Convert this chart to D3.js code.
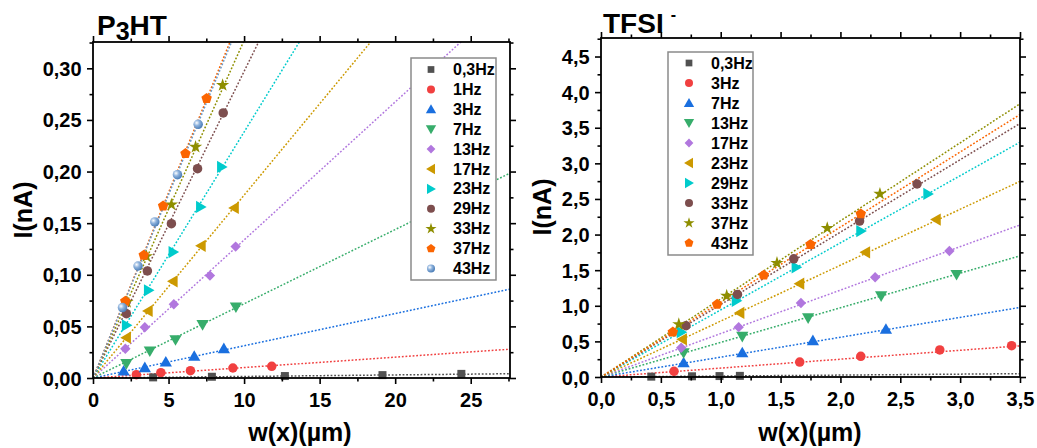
<!DOCTYPE html>
<html><head><meta charset="utf-8">
<script src="https://cdn.jsdelivr.net/npm/d3@7"></script>
<style>
body{margin:0;background:#fff;}
svg text{font-family:"Liberation Sans",Arial,sans-serif;font-weight:bold;fill:#000;}
</style></head>
<body><svg id="c" width="1037" height="448"></svg>
<script>
// ---------- DATA ----------
const seriesColors = ["#515151","#F14040","#1A6FDF","#37AD6B","#B177DE","#CC9900","#00CBCC","#7D4E4E","#8E8E00","#FB6501","#6699CC"];
const seriesShapes = ["square","circle","up","down","diamond","left","right","circle","star","pentagon","sphere"];

// P3HT panel
const p3htLabels = ["0,3Hz","1Hz","3Hz","7Hz","13Hz","17Hz","23Hz","29Hz","33Hz","37Hz","43Hz"];
const p3htX = [
  [3.98,7.87,12.7,19.16,24.38],
  [2.87,4.49,6.45,9.26,11.83],
  [2.03,3.43,4.82,6.70,8.66],
  [2.21,3.76,5.46,7.25,9.46],
  [2.14,3.43,5.35,7.74,9.44],
  [2.21,3.65,5.30,7.16,9.35],
  [2.21,3.67,5.30,7.12,8.51],
  [2.21,3.60,5.19,6.92,8.62],
  [2.25,3.54,5.19,6.79,8.58],
  [2.14,3.36,4.64,6.12,7.52],
  [1.95,2.98,4.09,5.59,6.96]
];
const p3htY = [
  [0.0006,0.0012,0.0019,0.0028,0.0040],
  [0.0032,0.0052,0.0071,0.0097,0.0113],
  [0.0068,0.0100,0.0155,0.0210,0.0284],
  [0.0139,0.0262,0.0371,0.0517,0.0688],
  [0.0284,0.0491,0.0714,0.0992,0.1273],
  [0.0390,0.0650,0.0937,0.1280,0.1647],
  [0.0510,0.0850,0.1220,0.1657,0.2045],
  [0.0623,0.1037,0.1495,0.2028,0.2568],
  [0.0736,0.1179,0.1680,0.2238,0.2836],
  [0.0743,0.1189,0.1667,0.2174,0.2707],
  [0.0682,0.1085,0.1512,0.1970,0.2458]
];
const p3htSlopes = [0.00015,0.00101,0.00312,0.00719,0.01337,0.01771,0.02383,0.0297,0.0327,0.0359,0.0355];
const p3htXTicks = [0,5,10,15,20,25];
const p3htYTicks = [0,0.05,0.10,0.15,0.20,0.25,0.30];

// TFSI panel
const tfsiLabels = ["0,3Hz","3Hz","7Hz","13Hz","17Hz","23Hz","29Hz","33Hz","37Hz","43Hz"];
const tfsiX = [
  [0.42,0.76,0.99,1.16],
  [0.61,1.66,2.17,2.83,3.43],
  [0.69,1.18,1.77,2.38],
  [0.69,1.18,1.73,2.34,2.97],
  [0.67,1.15,1.67,2.29,2.91],
  [0.68,1.16,1.66,2.21,2.80],
  [0.67,1.13,1.63,2.17,2.73],
  [0.71,1.14,1.61,2.16,2.64],
  [0.65,1.05,1.47,1.89,2.33],
  [0.60,0.97,1.36,1.75,2.17]
];
const tfsiY = [
  [0.005,0.010,0.013,0.016],
  [0.08,0.21,0.29,0.38,0.44],
  [0.20,0.34,0.51,0.67],
  [0.34,0.57,0.83,1.14,1.44],
  [0.41,0.70,1.04,1.40,1.77],
  [0.53,0.90,1.31,1.75,2.21],
  [0.63,1.07,1.54,2.05,2.57],
  [0.72,1.16,1.66,2.19,2.71],
  [0.74,1.14,1.60,2.09,2.57],
  [0.63,1.02,1.43,1.86,2.29]
];
const tfsiSlopes = [0.0134,0.125,0.279,0.486,0.61,0.785,0.942,1.017,1.096,1.053];
const tfsiXTicks = [0,0.5,1.0,1.5,2.0,2.5,3.0,3.5];
const tfsiYTicks = [0,0.5,1.0,1.5,2.0,2.5,3.0,3.5,4.0,4.5];

// ---------- DRAW ----------
const svg = d3.select("#c");
const loc = d3.formatLocale({decimal:",",thousands:".",grouping:[3],currency:["",""]});

const defs = svg.append("defs");
const rg = defs.append("radialGradient").attr("id","sph").attr("cx","35%").attr("cy","35%").attr("r","65%");
rg.append("stop").attr("offset","0%").attr("stop-color","#ffffff");
rg.append("stop").attr("offset","45%").attr("stop-color","#8fb3dd");
rg.append("stop").attr("offset","100%").attr("stop-color","#4d7fb8");

function pentagonPath(r){
  const pts=[];
  for(let i=0;i<5;i++){const a=-Math.PI/2+i*2*Math.PI/5;pts.push([r*Math.cos(a),r*Math.sin(a)]);}
  return "M"+pts.map(p=>p.join(",")).join("L")+"Z";
}
function drawMarker(g, shape, color, x, y, s){
  let el;
  const tri = d3.symbol().type(d3.symbolTriangle).size(s*s*0.72)();
  switch(shape){
    case "square": el=g.append("rect").attr("x",x-s*0.42).attr("y",y-s*0.42).attr("width",s*0.84).attr("height",s*0.84).attr("fill",color); break;
    case "circle": el=g.append("circle").attr("cx",x).attr("cy",y).attr("r",s*0.5).attr("fill",color); break;
    case "sphere": el=g.append("circle").attr("cx",x).attr("cy",y).attr("r",s*0.5).attr("fill","url(#sph)"); break;
    case "up": el=g.append("path").attr("d",tri).attr("transform",`translate(${x},${y+1})`).attr("fill",color); break;
    case "down": el=g.append("path").attr("d",tri).attr("transform",`translate(${x},${y-1}) rotate(180)`).attr("fill",color); break;
    case "left": el=g.append("path").attr("d",tri).attr("transform",`translate(${x+1},${y}) rotate(-90)`).attr("fill",color); break;
    case "right": el=g.append("path").attr("d",tri).attr("transform",`translate(${x-1},${y}) rotate(90)`).attr("fill",color); break;
    case "diamond": el=g.append("path").attr("d",d3.symbol().type(d3.symbolSquare).size(s*s*0.6)()).attr("transform",`translate(${x},${y}) rotate(45)`).attr("fill",color); break;
    case "star": el=g.append("path").attr("d",d3.symbol().type(d3.symbolStar).size(s*s*0.6)()).attr("transform",`translate(${x},${y})`).attr("fill",color); break;
    case "pentagon": el=g.append("path").attr("d",pentagonPath(s*0.58)).attr("transform",`translate(${x},${y})`).attr("fill",color); break;
  }
  return el;
}

function panel(cfg){
  const {L,R,T,B,xDom,yDom,xTicks,yTicks,xMinor,yMinor,xFmt,yFmt,labels,xs,ys,slopes,legend,id} = cfg;
  const x = d3.scaleLinear().domain(xDom).range([L,R]);
  const y = d3.scaleLinear().domain(yDom).range([B,T]);
  const g = svg.append("g");
  defs.append("clipPath").attr("id","clip"+id).append("rect").attr("x",L).attr("y",T).attr("width",R-L).attr("height",B-T);

  // fit lines
  const lg = g.append("g").attr("clip-path",`url(#clip${id})`);
  slopes.forEach((m,i)=>{
    lg.append("line").attr("x1",x(0)).attr("y1",y(0)).attr("x2",x(xDom[1])).attr("y2",y(m*xDom[1]))
      .attr("stroke",seriesColors[i]).attr("stroke-width",1.5).attr("stroke-dasharray","1.8,1.8");
  });
  // markers
  const mg = g.append("g");
  xs.forEach((arr,i)=>{
    arr.forEach((xv,j)=>drawMarker(mg, seriesShapes[i], seriesColors[i], x(xv), y(ys[i][j]), 9.5));
  });

  // axes
  const ax = (gen, tr, ticks, size, fmt) => {
    const a = g.append("g").attr("transform",tr).call(gen.tickValues(ticks).tickSize(size).tickSizeOuter(0).tickFormat(fmt||""));
    a.select(".domain").remove();
    a.selectAll("line").attr("stroke","#000").attr("stroke-width",1.6);
    a.selectAll("text").attr("font-size",20);
    return a;
  };
  const bx = ax(d3.axisBottom(x),`translate(0,${B})`,xTicks,6,xFmt);
  bx.selectAll("text").attr("dy","1.0em");
  ax(d3.axisBottom(x),`translate(0,${B})`,xMinor,3.5,null);
  const ly = ax(d3.axisLeft(y),`translate(${L},0)`,yTicks,6,yFmt);
  ly.selectAll("text").attr("dx","-0.12em").attr("dy","0.35em");
  ax(d3.axisLeft(y),`translate(${L},0)`,yMinor,3.5,null);
  ax(d3.axisTop(x),`translate(0,${T})`,xTicks,6,null);
  ax(d3.axisTop(x),`translate(0,${T})`,xMinor,3.5,null);
  ax(d3.axisRight(y),`translate(${R},0)`,yTicks,6,null);
  ax(d3.axisRight(y),`translate(${R},0)`,yMinor,3.5,null);
  g.append("rect").attr("x",L).attr("y",T).attr("width",R-L).attr("height",B-T).attr("fill","none").attr("stroke","#000").attr("stroke-width",1.8);

  // legend
  const lgd = g.append("g");
  lgd.append("rect").attr("x",legend.x).attr("y",legend.y).attr("width",legend.w).attr("height",legend.h)
    .attr("fill","#fff").attr("stroke","#8a8a8a").attr("stroke-width",1.5);
  labels.forEach((t,i)=>{
    const cy = legend.y + legend.first + i*legend.step;
    drawMarker(lgd, seriesShapes[i], seriesColors[i], legend.x+legend.mx, cy, 8);
    lgd.append("text").attr("x",legend.x+legend.tx).attr("y",cy+5.5).attr("font-size",16).text(t);
  });
  return {x,y};
}

const minorBetween = (ticks, step, max) => { const r=[]; for(let v=step/2; v<max; v+=step){ r.push(+v.toFixed(4)); } return r; };

panel({id:"a",L:93,R:510,T:42,B:378,xDom:[0,27.6],yDom:[0,0.3255],
  xTicks:p3htXTicks,yTicks:p3htYTicks,xMinor:minorBetween(p3htXTicks,5,27.6),yMinor:minorBetween(p3htYTicks,0.05,0.3255),
  xFmt:d3.format("d"),yFmt:loc.format(".2f"),labels:p3htLabels,xs:p3htX,ys:p3htY,slopes:p3htSlopes,
  legend:{x:411,y:58,w:85,h:222,first:11.5,step:19.9,mx:20,tx:42}});

panel({id:"b",L:601,R:1020,T:38,B:377,xDom:[0,3.5],yDom:[0,4.76],
  xTicks:tfsiXTicks,yTicks:tfsiYTicks,xMinor:minorBetween(tfsiXTicks,0.5,3.5),yMinor:minorBetween(tfsiYTicks,0.5,4.76),
  xFmt:loc.format(".1f"),yFmt:loc.format(".1f"),labels:tfsiLabels,xs:tfsiX,ys:tfsiY,slopes:tfsiSlopes,
  legend:{x:668,y:52,w:85,h:203,first:11,step:20,mx:21,tx:43}});

// titles
const t1 = svg.append("text").attr("x",97).attr("y",35).attr("font-size",28);
t1.append("tspan").text("P");
t1.append("tspan").attr("font-size",25).attr("dy",5).text("3");
t1.append("tspan").attr("dy",-5).text("HT");
const t2 = svg.append("text").attr("x",603).attr("y",33).attr("font-size",28);
t2.append("tspan").text("TFSI");
t2.append("tspan").attr("font-size",16).attr("dx",7).attr("dy",-13).text("-");

// axis titles
svg.append("text").attr("transform","translate(32,210) rotate(-90)").attr("text-anchor","middle").attr("font-size",25).text("I(nA)");
svg.append("text").attr("transform","translate(551,207) rotate(-90)").attr("text-anchor","middle").attr("font-size",25).text("I(nA)");
svg.append("text").attr("x",300).attr("y",441).attr("text-anchor","middle").attr("font-size",25).text("w(x)(µm)");
svg.append("text").attr("x",810).attr("y",441).attr("text-anchor","middle").attr("font-size",25).text("w(x)(µm)");
</script></body></html>
